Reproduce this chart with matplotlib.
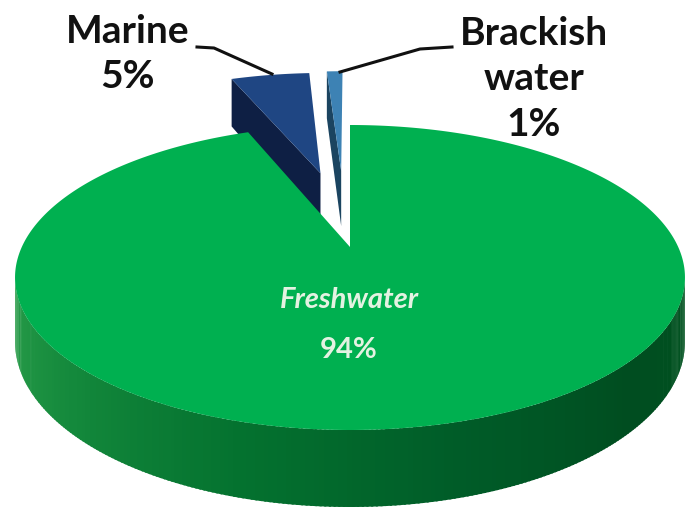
import numpy as np
import matplotlib
matplotlib.use("Agg")
import matplotlib.pyplot as plt
from matplotlib.patches import Polygon
from matplotlib.colors import LinearSegmentedColormap

# data
labels = ["Freshwater", "Marine", "Brackish\nwater"]
values = [94, 5, 1]
top_colors = ["#00b050", "#1f4683", "#3d82b4"]
side_colors = ["#006b30", "#0e1f44", "#1b4460"]
explode = [(0.0, 0.0), (-0.10, 0.56), (-0.03, 0.58)]   # (dX, dz) shift for each slice

# simple perspective camera (pixel coords)
cx, f, Z0, yh, k, kt = 350, 1641, 5.0, -485, 3660, 308


def proj(X, z, h=0.0):
    Zc = Z0 + z
    return cx + f * X / Zc, yh + (k + h * kt) / Zc


def wedge_pts(t1, t2, dX, dz, h=0.0, n=200):
    th = np.radians(np.linspace(t1, t2, n))
    X = np.concatenate([[0], np.cos(th), [0]]) + dX
    z = np.concatenate([[0], np.sin(th), [0]]) + dz
    x, y = proj(X, z, h)
    return np.column_stack([x, y])


fig = plt.figure(figsize=(6.95, 5.13), dpi=100)
ax = fig.add_axes([0, 0, 1, 1])
ax.set_xlim(0, 695)
ax.set_ylim(513, 0)
ax.axis("off")

# slice angles (clockwise from 12 o'clock)
cum = np.concatenate([[0], np.cumsum(values)]) / sum(values) * 360
theta = [(90 - cum[i + 1], 90 - cum[i]) for i in range(len(values))]

# small exploded slices first (they sit behind)
for i in [1, 2]:
    t1, t2 = theta[i]
    dX, dz = explode[i]
    # cut face at the larger angle edge (faces the viewer on the left)
    a = np.radians(t2)
    Xs = np.array([0, np.cos(a), np.cos(a), 0]) + dX
    zs = np.array([0, np.sin(a), np.sin(a), 0]) + dz
    hs = np.array([0, 0, 1, 1])
    x, y = proj(Xs, zs, hs)
    ax.add_patch(Polygon(np.column_stack([x, y]), closed=True,
                         facecolor=side_colors[i], edgecolor="none"))
    ax.add_patch(Polygon(wedge_pts(t1, t2, dX, dz), closed=True,
                         facecolor=top_colors[i], edgecolor="none"))

# big slice: outer side, shaded by angle
t1, t2 = theta[0]
vis1, vis2 = -180 + np.degrees(np.arcsin(0.2)), -np.degrees(np.arcsin(0.2))
shade = LinearSegmentedColormap.from_list(
    "side", ["#2a9e4a", "#14893c", "#04722f", "#005c28", "#004d20", "#00521f"])
steps = np.linspace(max(t1, vis1), min(t2, vis2), 240)
for j in range(len(steps) - 1):
    a0, a1 = np.radians(steps[j]), np.radians(steps[j + 1] + 0.3)
    Xs = np.array([np.cos(a0), np.cos(a1), np.cos(a1), np.cos(a0)])
    zs = np.array([np.sin(a0), np.sin(a1), np.sin(a1), np.sin(a0)])
    hs = np.array([0, 0, 1, 1])
    x, y = proj(Xs, zs, hs)
    ax.add_patch(Polygon(np.column_stack([x, y]), closed=True,
                         facecolor=shade(j / (len(steps) - 2)), edgecolor="none"))
ax.add_patch(Polygon(wedge_pts(t1, t2, 0, 0, n=600), closed=True,
                     facecolor=top_colors[0], edgecolor="none"))

font = ["Lato", "DejaVu Sans"]
pct = [f"{v}%" for v in values]

ax.text(349, 300, labels[0], ha="center", va="center", fontsize=21,
        fontweight="bold", fontstyle="italic", color="#e4f2e2", family=font)
ax.text(349, 350, pct[0], ha="center", va="center", fontsize=21,
        fontweight="bold", color="#e4f2e2", family=font)

ax.text(128, 54, labels[1] + "\n" + pct[1], ha="center", va="center",
        fontsize=28, fontweight="bold", color="#111111", family=font,
        linespacing=1.36)
ax.text(534, 79, labels[2] + "\n" + pct[2], ha="center", va="center",
        fontsize=28, fontweight="bold", color="#111111", family=font,
        linespacing=1.36)

# leader lines
ax.plot([197, 214, 272], [47, 48, 74], color="#111111", lw=2.2)
ax.plot([452, 420, 340], [47, 49, 72], color="#111111", lw=2.2)

fig.savefig("out.png", dpi=100)
